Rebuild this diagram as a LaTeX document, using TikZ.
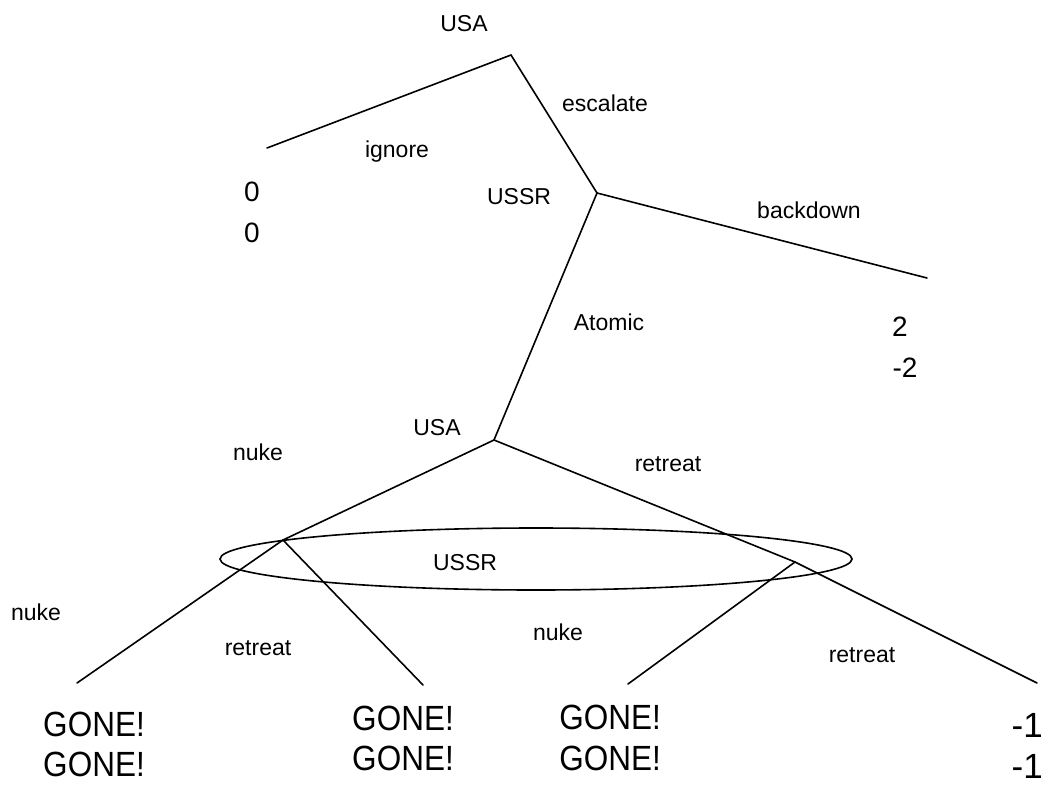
\documentclass[tikz,border=0pt]{standalone}
\usepackage{fontspec}
\setmainfont{Liberation Sans}
\usetikzlibrary{shapes.geometric}
\tikzset{
  edge/.style={line width=1.6pt, line cap=round, line join=round},
  lbl/.style={inner sep=0pt, font=\fontsize{23}{26}\selectfont},
  pay/.style={inner sep=0pt, font=\fontsize{28}{32}\selectfont},
  big/.style={inner sep=0pt, font=\fontsize{35}{40}\selectfont},
  infoset/.style={draw, ellipse, line width=1.6pt, inner sep=0pt}
}
\newcommand{\gone}{\scalebox{0.9}[1]{GONE!}}
\begin{document}
\begin{tikzpicture}[x=1pt,y=-1pt]
\clip (0,0) rectangle (1046,784);
\fill[white] (0,0) rectangle (1046,784);
% decision points and end points
\coordinate (usa1) at (511,55);
\coordinate (ign) at (267,148);
\coordinate (ussr1) at (597,193);
\coordinate (back) at (927,278);
\coordinate (usa2) at (494,440);
\coordinate (ussrL) at (283,540);
\coordinate (ussrR) at (795,562);
\coordinate (lnuke) at (77,683);
\coordinate (lret) at (423,685);
\coordinate (rnuke) at (628,684);
\coordinate (rret) at (1037,683);
% information set
\node[infoset, minimum width=632pt, minimum height=62pt] (info) at (536,559) {};
% branches
\draw[edge] (usa1) -- (ign);
\draw[edge] (usa1) -- (ussr1);
\draw[edge] (ussr1) -- (back);
\draw[edge] (ussr1) -- (usa2);
\draw[edge] (usa2) -- (ussrL);
\draw[edge] (usa2) -- (ussrR);
\draw[edge] (ussrL) -- (lnuke);
\draw[edge] (ussrL) -- (lret);
\draw[edge] (ussrR) -- (rnuke);
\draw[edge] (ussrR) -- (rret);
% player labels
\node[lbl] (pUSA1) at (464,24) {USA};
\node[lbl] (pUSSR1) at (519,197) {USSR};
\node[lbl] (pUSA2) at (437,428) {USA};
\node[lbl] (pUSSR2) at (465,563) {USSR};
% action labels
\node[lbl] (aIgnore) at (397,152) {ignore};
\node[lbl] (aEsc) at (605,103) {escalate};
\node[lbl] (aBack) at (809,210) {backdown};
\node[lbl] (aAtomic) at (609,322) {Atomic};
\node[lbl] (aNuke1) at (258,452) {nuke};
\node[lbl] (aRet1) at (668,464) {retreat};
\node[lbl] (aNuke2) at (36,612) {nuke};
\node[lbl] (aRet2) at (258,648) {retreat};
\node[lbl] (aNuke3) at (558,632) {nuke};
\node[lbl] (aRet3) at (862,655) {retreat};
% payoffs
\node[pay] (p0a) at (252,192) {0};
\node[pay] (p0b) at (252,233) {0};
\node[pay] (p2a) at (900,327) {2};
\node[pay] (p2b) at (905,368) {-2};
\node[big] (g1a) at (94,724) {\gone};
\node[big] (g1b) at (94,764) {\gone};
\node[big] (g2a) at (403,718) {\gone};
\node[big] (g2b) at (403,758) {\gone};
\node[big] (g3a) at (610,717) {\gone};
\node[big] (g3b) at (610,758) {\gone};
\node[big, anchor=east] (m1a) at (1043,725) {-1};
\node[big, anchor=east] (m1b) at (1043,766) {-1};
\end{tikzpicture}
\end{document}
